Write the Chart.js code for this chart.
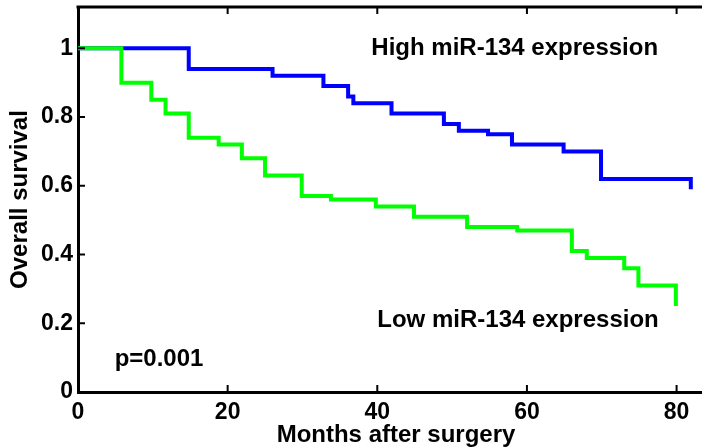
<!DOCTYPE html>
<html>
<head>
<meta charset="utf-8">
<script src="https://cdn.jsdelivr.net/npm/chart.js@4.4.1/dist/chart.umd.min.js"></script>
<style>
html,body{margin:0;padding:0;background:#fff;overflow:hidden;width:702px;height:448px;}
canvas{display:block;}
</style>
</head>
<body>
<canvas id="c" width="730" height="448"></canvas>
<script>
// Kaplan-Meier step data
const highTimes = [0, 14.8, 26.0, 32.8, 36.1, 36.8, 41.9, 48.9, 50.9, 54.8, 58.0, 64.9, 69.9, 81.9];
const highSurv  = [1.0, 0.94, 0.92, 0.89, 0.86, 0.84, 0.81, 0.78, 0.76, 0.75, 0.72, 0.70, 0.62, 0.59];
const lowTimes  = [0, 5.8, 9.8, 11.7, 14.8, 18.8, 21.9, 25.0, 29.9, 33.8, 39.8, 44.9, 52.0, 58.7, 66.0, 68.0, 73.0, 74.9, 79.9];
const lowSurv   = [1.0, 0.90, 0.85, 0.81, 0.74, 0.72, 0.68, 0.63, 0.57, 0.56, 0.54, 0.51, 0.48, 0.47, 0.41, 0.39, 0.36, 0.31, 0.25];
const xTicks = [0, 20, 40, 60, 80];
const yTicks = [0, 0.2, 0.4, 0.6, 0.8, 1];
const xTitle = 'Months after surgery';
const yTitle = 'Overall survival';
const highLabel = 'High miR-134 expression';
const lowLabel = 'Low miR-134 expression';
const pLabel = 'p=0.001';

const FONT = '"Liberation Sans", Arial, Helvetica, sans-serif';
const toPts = (t, s) => t.map((v, i) => ({x: v, y: s[i]}));

const annotations = [
  {text: highLabel, x: 39.2, y: 1.0},
  {text: lowLabel, x: 40.0, y: 0.208},
  {text: pLabel, x: 4.9, y: 0.096}
];

const boxPlugin = {
  id: 'box',
  afterDraw(chart) {
    const ctx = chart.ctx;
    const a = chart.chartArea;
    const xs = chart.scales.x, ys = chart.scales.y;
    ctx.save();
    ctx.strokeStyle = '#000';
    ctx.lineWidth = 3;
    ctx.beginPath();
    ctx.moveTo(a.left - 1.5, a.top);
    ctx.lineTo(a.right + 1.5, a.top);
    ctx.moveTo(a.right, a.top);
    ctx.lineTo(a.right, a.bottom);
    ctx.stroke();
    ctx.lineWidth = 2;
    ctx.beginPath();
    xs.ticks.forEach(t => {
      const px = xs.getPixelForValue(t.value);
      ctx.moveTo(px, a.bottom); ctx.lineTo(px, a.bottom - 7);
      ctx.moveTo(px, a.top); ctx.lineTo(px, a.top + 7);
    });
    ys.ticks.forEach(t => {
      const py = ys.getPixelForValue(t.value);
      ctx.moveTo(a.left, py); ctx.lineTo(a.left + 7, py);
      ctx.moveTo(a.right, py); ctx.lineTo(a.right - 7, py);
    });
    ctx.stroke();
    ctx.fillStyle = '#000';
    ctx.font = 'bold 24px ' + FONT;
    ctx.textBaseline = 'middle';
    ctx.textAlign = 'left';
    annotations.forEach(an => {
      ctx.fillText(an.text, xs.getPixelForValue(an.x), ys.getPixelForValue(an.y));
    });
    ctx.restore();
  }
};

new Chart(document.getElementById('c'), {
  type: 'line',
  data: {
    datasets: [
      {label: lowLabel, data: toPts(lowTimes, lowSurv), stepped: true, borderColor: '#00ff00', backgroundColor: '#00ff00', borderWidth: 4, pointRadius: 0, fill: false, order: 0, borderCapStyle: 'butt', borderJoinStyle: 'miter'},
      {label: highLabel, data: toPts(highTimes, highSurv), stepped: true, borderColor: '#0000ff', backgroundColor: '#0000ff', borderWidth: 4, pointRadius: 0, fill: false, order: 1, borderCapStyle: 'butt', borderJoinStyle: 'miter'}
    ]
  },
  options: {
    responsive: false,
    animation: false,
    events: [],
    layout: {padding: {top: 7, right: 16, left: 0, bottom: 0}},
    plugins: {legend: {display: false}, tooltip: {enabled: false}, title: {display: false}},
    scales: {
      x: {
        type: 'linear', min: 0, max: 85,
        afterBuildTicks: s => { s.ticks = xTicks.map(v => ({value: v})); },
        afterFit: s => { s.height = 56; s.paddingLeft = 0; s.paddingRight = 0; },
        border: {display: true, color: '#000', width: 3},
        grid: {display: false, drawTicks: false},
        ticks: {color: '#000', font: {family: FONT, size: 23, weight: 'bold'}, padding: 7, maxRotation: 0, callback: v => String(v)},
        title: {display: true, text: xTitle, color: '#000', font: {family: FONT, size: 24, weight: 'bold'}, padding: {top: 0, bottom: -2}}
      },
      y: {
        type: 'linear', min: 0, max: 1.12,
        afterBuildTicks: s => { s.ticks = yTicks.map(v => ({value: v})); },
        afterFit: s => { s.width = 78; s.paddingTop = 0; s.paddingBottom = 0; },
        border: {display: true, color: '#000', width: 3},
        grid: {display: false, drawTicks: false},
        ticks: {color: '#000', font: {family: FONT, size: 23, weight: 'bold'}, padding: 5, callback: v => String(v)},
        title: {display: true, text: yTitle, color: '#000', font: {family: FONT, size: 24, weight: 'bold'}, padding: {top: 6, bottom: 0}}
      }
    }
  },
  plugins: [boxPlugin]
});
</script>
</body>
</html>
